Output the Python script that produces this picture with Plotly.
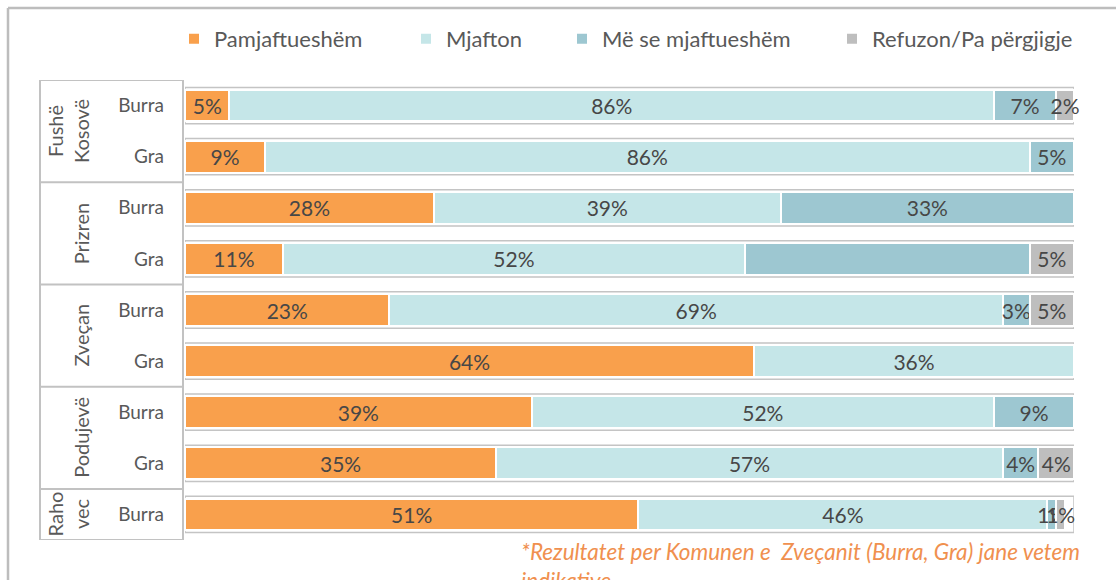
import plotly.graph_objects as go

# --- data -------------------------------------------------------------
groups = ["Fushë<br>Kosovë", "Prizren", "Zveçan", "Podujevë", "Raho<br>vec"]
group_rows = [[0, 1], [2, 3], [4, 5], [6, 7], [8]]
sex = ["Burra", "Gra", "Burra", "Gra", "Burra", "Gra", "Burra", "Gra", "Burra"]

series = ["Pamjaftueshëm", "Mjafton", "Më se mjaftueshëm", "Refuzon/Pa përgjigje"]
pamjaftueshem = [5, 9, 28, 11, 23, 64, 39, 35, 51]
mjafton = [86, 86, 39, 52, 69, 36, 52, 57, 46]
me_se_mjaftueshem = [7, 5, 33, 32, 3, 0, 9, 4, 1]
refuzon = [2, 0, 0, 5, 5, 0, 0, 4, 1]
# segments whose value label is not printed (series index, row index)
unlabeled = [(2, 3)]

footnote = "*Rezultatet per Komunen e  Zveçanit (Burra, Gra) jane vetem<br>indikative"

colors = ["#F9A04C", "#C5E6E8", "#9DC7D1", "#BEBEBE"]

# --- page geometry ----------------------------------------------------
W, H = 1116, 580
ML, MR, MT, MB = 185, 42, 80, 40
PW, PH = W - ML - MR, H - MT - MB


def px2x(px):
    return (px - ML) / PW


def py2y(py):
    return (H - MB - py) / PH


FONT = "Lato, 'Open Sans', sans-serif"
TXT = "#595959"

fig = go.Figure()

values = [pamjaftueshem, mjafton, me_se_mjaftueshem, refuzon]
rows = list(range(len(sex)))
legend_ids = ["legend", "legend2", "legend3", "legend4"]
for si, (name, vals) in enumerate(zip(series, values)):
    labels = [
        "" if (v == 0 or (si, ri) in unlabeled) else f"{v}%"
        for ri, v in enumerate(vals)
    ]
    fig.add_trace(go.Bar(
        x=vals, y=rows, orientation="h", name=name,
        marker=dict(color=colors[si], line=dict(color="white", width=2)),
        text=labels, textposition="inside", insidetextanchor="middle",
        constraintext="none", textangle=0, cliponaxis=False,
        textfont=dict(family=FONT, size=21, color="#474747"),
        legend=legend_ids[si],
        hovertemplate=name + ": %{x}%<extra></extra>",
    ))

shapes = []
# grey outline around each stacked bar
for r in rows:
    shapes.append(dict(type="rect", xref="x", yref="y", x0=0, x1=100,
                       y0=r - 0.355, y1=r + 0.355, layer="below",
                       line=dict(color="#C4C4C4", width=1.5)))

# category table on the left
tbl_x0, tbl_x1 = px2x(40), px2x(183)
bounds = [group_rows[0][0] - 0.5] + [g[-1] + 0.5 for g in group_rows]
for b in bounds:
    shapes.append(dict(type="line", xref="paper", yref="y", x0=tbl_x0, x1=tbl_x1,
                       y0=b, y1=b, line=dict(color="#C2C2C2", width=2)))
for xv in (tbl_x0, tbl_x1):
    shapes.append(dict(type="line", xref="paper", yref="y", x0=xv, x1=xv,
                       y0=bounds[0], y1=bounds[-1], line=dict(color="#C2C2C2", width=2)))

# outer frame (top and left edges)
shapes.append(dict(type="line", xref="paper", yref="paper", x0=px2x(8), x1=px2x(W + 5),
                   y0=py2y(8), y1=py2y(8), line=dict(color="#BDBDBD", width=2.5)))
shapes.append(dict(type="line", xref="paper", yref="paper", x0=px2x(8), x1=px2x(8),
                   y0=py2y(8), y1=py2y(H + 5), line=dict(color="#BDBDBD", width=2.5)))

annotations = []
for gname, grows in zip(groups, group_rows):
    two_line = "<br>" in gname
    annotations.append(dict(
        xref="paper", yref="y", x=px2x(68 if two_line else 81),
        y=sum(grows) / len(grows), text=gname, showarrow=False, textangle=-90,
        xanchor="center", yanchor="middle",
        font=dict(family=FONT, size=20, color=TXT),
    ))

annotations.append(dict(
    xref="paper", yref="paper", x=px2x(519), y=py2y(536), xanchor="left", yanchor="top",
    text="<i>" + footnote + "</i>", showarrow=False, align="left",
    font=dict(family=FONT, size=22.5, color="#F0904F"),
))

legend_x = [174, 406, 562, 832]
legend_common = dict(orientation="h", yanchor="middle", xanchor="left",
                     bgcolor="rgba(0,0,0,0)", font=dict(family=FONT, size=22, color=TXT))

fig.update_layout(
    width=W, height=H, autosize=False,
    margin=dict(l=ML, r=MR, t=MT, b=MB, pad=0),
    paper_bgcolor="white", plot_bgcolor="white",
    barmode="stack", bargap=0.38,
    showlegend=True,
    legend=dict(x=px2x(legend_x[0]), y=py2y(39), **legend_common),
    legend2=dict(x=px2x(legend_x[1]), y=py2y(39), **legend_common),
    legend3=dict(x=px2x(legend_x[2]), y=py2y(39), **legend_common),
    legend4=dict(x=px2x(legend_x[3]), y=py2y(39), **legend_common),
    xaxis=dict(range=[0, 100], showgrid=False, zeroline=False, showticklabels=False,
               showline=False, fixedrange=True),
    yaxis=dict(range=[len(sex) - 0.5, -0.5], tickvals=rows, ticktext=sex,
               showgrid=False, zeroline=False, showline=False, ticks="",
               ticklabelstandoff=20, tickfont=dict(family=FONT, size=19, color=TXT),
               fixedrange=True),
    shapes=shapes, annotations=annotations,
    font=dict(family=FONT, color=TXT),
)

fig.write_html("out.html")
